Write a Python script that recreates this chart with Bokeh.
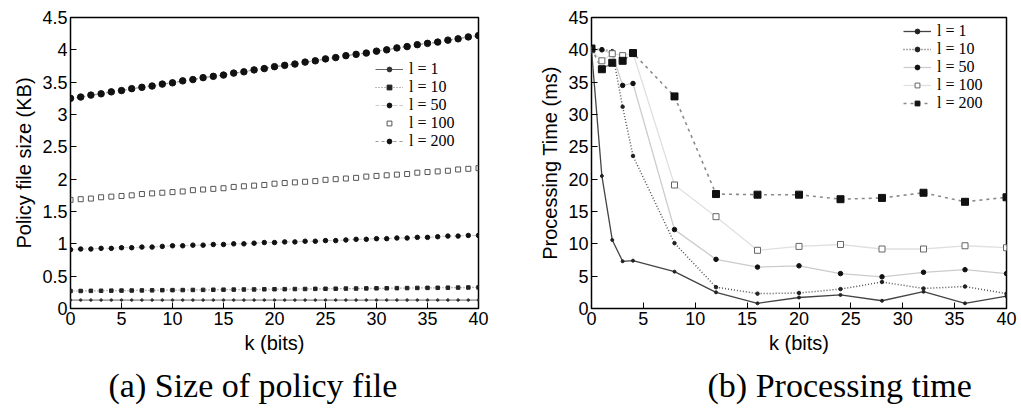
from bokeh.plotting import figure
from bokeh.layouts import row
from bokeh.models import (Range1d, FixedTicker, NumeralTickFormatter,
                          Legend, LegendItem, Title)
from bokeh.embed import file_html
from bokeh.resources import INLINE

# ---------------- data: (a) size of policy file ----------------
k_size = [0, 1, 2, 3, 4, 5, 6, 7, 8, 9, 10, 11, 12, 13, 14, 15, 16, 17, 18, 19, 20,
          21, 22, 23, 24, 25, 26, 27, 28, 29, 30, 31, 32, 33, 34, 35, 36, 37, 38, 39, 40]
size_l1 = [0.13, 0.13, 0.13, 0.13, 0.13, 0.13, 0.13, 0.13, 0.13, 0.13, 0.13,
           0.13, 0.13, 0.13, 0.13, 0.13, 0.13, 0.13, 0.13, 0.13, 0.13,
           0.13, 0.13, 0.13, 0.13, 0.13, 0.13, 0.13, 0.13, 0.13, 0.13,
           0.13, 0.13, 0.13, 0.13, 0.13, 0.13, 0.13, 0.13, 0.13, 0.13]
size_l10 = [0.270, 0.271, 0.273, 0.274, 0.276, 0.277, 0.278, 0.280, 0.281, 0.283, 0.284,
            0.285, 0.287, 0.288, 0.290, 0.291, 0.292, 0.294, 0.295, 0.297, 0.298,
            0.299, 0.301, 0.302, 0.304, 0.305, 0.306, 0.308, 0.309, 0.311, 0.312,
            0.313, 0.315, 0.316, 0.318, 0.319, 0.320, 0.322, 0.323, 0.325, 0.326]
size_l50 = [0.91, 0.92, 0.92, 0.93, 0.93, 0.94, 0.94, 0.95, 0.95, 0.96, 0.97,
            0.97, 0.98, 0.98, 0.99, 0.99, 1.00, 1.00, 1.01, 1.02, 1.02,
            1.03, 1.03, 1.04, 1.04, 1.05, 1.05, 1.06, 1.07, 1.07, 1.08,
            1.08, 1.09, 1.09, 1.10, 1.10, 1.11, 1.12, 1.12, 1.13, 1.13]
size_l100 = [1.68, 1.69, 1.70, 1.72, 1.73, 1.74, 1.75, 1.77, 1.78, 1.79, 1.80,
             1.81, 1.83, 1.84, 1.85, 1.86, 1.88, 1.89, 1.90, 1.91, 1.93,
             1.94, 1.95, 1.96, 1.97, 1.99, 2.00, 2.01, 2.02, 2.04, 2.05,
             2.06, 2.07, 2.08, 2.10, 2.11, 2.12, 2.13, 2.15, 2.16, 2.17]
size_l200 = [3.25, 3.27, 3.30, 3.32, 3.35, 3.37, 3.40, 3.42, 3.44, 3.47, 3.49,
             3.52, 3.54, 3.57, 3.59, 3.61, 3.64, 3.66, 3.69, 3.71, 3.74,
             3.76, 3.78, 3.81, 3.83, 3.86, 3.88, 3.91, 3.93, 3.95, 3.98,
             4.00, 4.03, 4.05, 4.08, 4.10, 4.12, 4.15, 4.17, 4.20, 4.22]

# ---------------- data: (b) processing time ----------------
k_time = [0, 1, 2, 3, 4, 8, 12, 16, 20, 24, 28, 32, 36, 40]
time_l1 = [40.0, 20.5, 10.6, 7.3, 7.4, 5.7, 2.5, 0.8, 1.7, 2.1, 1.2, 2.6, 0.8, 1.9]
time_l10 = [40.1, 40.1, 39.8, 31.2, 23.6, 10.1, 3.3, 2.3, 2.4, 3.0, 4.1, 3.1, 3.4, 2.3]
time_l50 = [40.0, 40.0, 39.4, 34.5, 34.8, 12.2, 7.6, 6.4, 6.6, 5.4, 4.9, 5.6, 6.0, 5.4]
time_l100 = [40.0, 38.3, 39.4, 39.1, 39.5, 19.1, 14.2, 9.0, 9.6, 9.9, 9.2, 9.2, 9.7, 9.4]
time_l200 = [40.2, 37.0, 38.0, 38.3, 39.5, 32.8, 17.7, 17.6, 17.6, 16.9, 17.1, 17.9, 16.5, 17.2]

legend_labels = ["l = 1", "l = 10", "l = 50", "l = 100", "l = 200"]
x_ticks = [0, 5, 10, 15, 20, 25, 30, 35, 40]
size_ticks = [0, 0.5, 1, 1.5, 2, 2.5, 3, 3.5, 4, 4.5]
time_ticks = [0, 5, 10, 15, 20, 25, 30, 35, 40, 45]
captions = ["(a) Size of policy file", "(b) Processing time"]

SANS = "Liberation Sans"
SERIF = "Liberation Serif"


def style(p, yticks, xlabel, ylabel, yfmt=None):
    p.xgrid.visible = False
    p.ygrid.visible = False
    p.outline_line_color = "black"
    p.outline_line_width = 1.5
    p.background_fill_color = "white"
    p.border_fill_color = "white"
    for ax in p.xaxis + p.yaxis:
        ax.axis_line_color = None
        ax.major_tick_in = 6
        ax.major_tick_out = 0
        ax.minor_tick_line_color = None
        ax.major_tick_line_color = "black"
        ax.major_label_text_font = SANS
        ax.major_label_text_font_size = "18px"
        ax.major_label_text_color = "black"
        ax.major_label_standoff = 3
        ax.axis_label_text_font = SANS
        ax.axis_label_text_font_size = "20px"
        ax.axis_label_text_font_style = "normal"
        ax.axis_label_text_color = "black"
        ax.axis_label_standoff = 4
    p.xaxis.ticker = FixedTicker(ticks=x_ticks)
    p.yaxis.ticker = FixedTicker(ticks=yticks)
    if yfmt is not None:
        p.yaxis.formatter = yfmt
    p.xaxis.axis_label = xlabel
    p.yaxis.axis_label = ylabel


def make_legend(p, items, loc):
    leg = Legend(items=items, location=loc, border_line_color=None,
                 background_fill_alpha=0.0, label_text_font=SERIF,
                 label_text_font_size="16px", label_text_color="black",
                 label_height=12, glyph_height=12, glyph_width=28,
                 spacing=0, padding=2, margin=0, label_standoff=6,
                 label_text_line_height=0.8)
    p.add_layout(leg, "center")


def add_caption(p, text, offset):
    p.add_layout(Title(text=text, align="left", offset=offset, standoff=16,
                       text_font=SERIF, text_font_size="34px",
                       text_font_style="normal", text_color="black"), "below")


# ---------------- figure (a) ----------------
pa = figure(width=510, height=416, output_backend="svg", toolbar_location=None,
            x_range=Range1d(0, 40), y_range=Range1d(0, 4.5),
            min_border_left=70, min_border_right=32, min_border_top=17, min_border_bottom=108)
style(pa, size_ticks, "k (bits)", "Policy file size (KB)", NumeralTickFormatter(format="0.[0]"))

a1l = pa.line(k_size, size_l1, line_color="#666666", line_width=1)
a1m = pa.scatter(k_size, size_l1, marker="circle", size=2.5, color="#333333")
a10l = pa.line(k_size, size_l10, line_color="#777777", line_width=1.2, line_dash="1 2")
a10m = pa.scatter(k_size, size_l10, marker="square", size=3.5, color="#222222")
a50l = pa.line(k_size, size_l50, line_color="#cccccc", line_width=1, line_dash="4 2")
a50m = pa.scatter(k_size, size_l50, marker="circle", size=4.5, color="#111111")
a100m = pa.scatter(k_size, size_l100, marker="square", size=5, fill_color=None,
                   line_color="#555555", line_width=1)
a200l = pa.line(k_size, size_l200, line_color="#999999", line_width=1.2, line_dash="3 3")
a200m = pa.scatter(k_size, size_l200, marker="circle", size=6.5, color="#111111")

items_a = [LegendItem(label=legend_labels[0], renderers=[a1l, a1m]),
           LegendItem(label=legend_labels[1], renderers=[a10l, a10m]),
           LegendItem(label=legend_labels[2], renderers=[a50l, a50m]),
           LegendItem(label=legend_labels[3], renderers=[a100m]),
           LegendItem(label=legend_labels[4], renderers=[a200l, a200m])]
make_legend(pa, items_a, (305, 158))
add_caption(pa, captions[0], 38)

# ---------------- figure (b) ----------------
pb = figure(width=509, height=416, output_backend="svg", toolbar_location=None,
            x_range=Range1d(0, 40), y_range=Range1d(0, 45),
            min_border_left=81, min_border_right=13, min_border_top=17, min_border_bottom=108)
style(pb, time_ticks, "k (bits)", "Processing Time (ms)")

b1l = pb.line(k_time, time_l1, line_color="#444444", line_width=1.3)
b1m = pb.scatter(k_time, time_l1, marker="circle", size=3, color="#222222")
b10l = pb.line(k_time, time_l10, line_color="#555555", line_width=1.5, line_dash="1 2")
b10m = pb.scatter(k_time, time_l10, marker="circle", size=3.5, color="#222222")
b50l = pb.line(k_time, time_l50, line_color="#cccccc", line_width=1.3)
b50m = pb.scatter(k_time, time_l50, marker="circle", size=4.5, color="#111111")
b100l = pb.line(k_time, time_l100, line_color="#e0e0e0", line_width=1.3)
b100m = pb.scatter(k_time, time_l100, marker="square", size=6, fill_color="white",
                   line_color="#666666", line_width=1)
b200l = pb.line(k_time, time_l200, line_color="#8a8a8a", line_width=1.6, line_dash="3 4")
b200m = pb.scatter(k_time, time_l200, marker="square", size=7, color="#111111")

items_b = [LegendItem(label=legend_labels[0], renderers=[b1l, b1m]),
           LegendItem(label=legend_labels[1], renderers=[b10l, b10m]),
           LegendItem(label=legend_labels[2], renderers=[b50l, b50m]),
           LegendItem(label=legend_labels[3], renderers=[b100l, b100m]),
           LegendItem(label=legend_labels[4], renderers=[b200l, b200m])]
make_legend(pb, items_b, (312, 196))
add_caption(pb, captions[1], 116)

layout = row(pa, pb)
open("out.html", "w").write(file_html(layout, INLINE))
